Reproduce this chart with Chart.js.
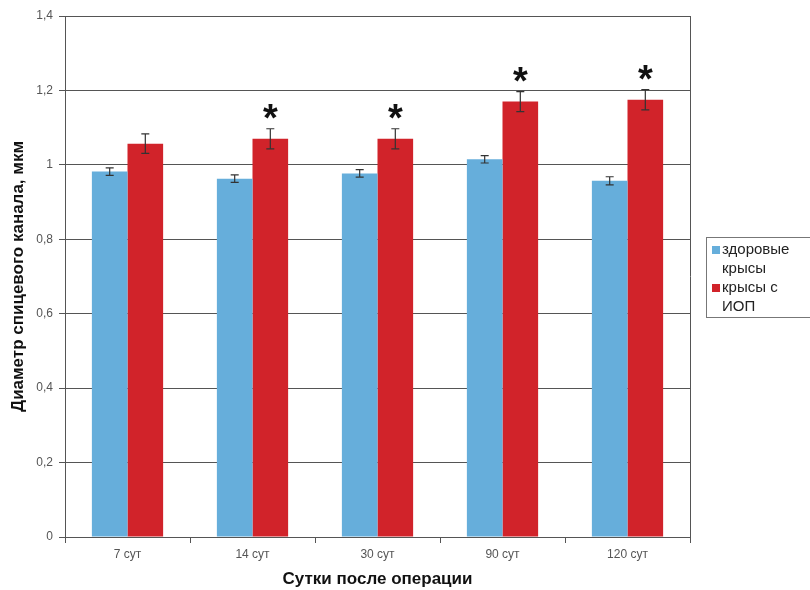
<!DOCTYPE html>
<html>
<head>
<meta charset="utf-8">
<script src="https://cdn.jsdelivr.net/npm/chart.js@4/dist/chart.umd.min.js"></script>
<style>
  html, body { margin: 0; padding: 0; background: #fff; }
  #wrap { width: 810px; height: 590px; }
</style>
</head>
<body>
<div id="wrap"><canvas id="chart" width="810" height="590"></canvas></div>
<script>
// data
const days = ['7 сут', '14 сут', '30 сут', '90 сут', '120 сут'];
const healthy = [0.982, 0.963, 0.977, 1.015, 0.957];
const healthyErr = [0.010, 0.010, 0.010, 0.010, 0.011];
const iop = [1.057, 1.070, 1.070, 1.170, 1.175];
const iopErr = [0.026, 0.027, 0.027, 0.027, 0.027];
const iopMarks = ['', '*', '*', '*', '*'];
const yTicks = [0, 0.2, 0.4, 0.6, 0.8, 1, 1.2, 1.4];

const FONT = 'Arial, "Liberation Sans", sans-serif';
const BLUE = '#66aedb';
const RED = '#d1232a';

// whiskers + significance stars
const errorBars = {
  id: 'errorBars',
  afterDatasetsDraw(chart) {
    const ctx = chart.ctx;
    const y = chart.scales.y;
    const errs = [healthyErr, iopErr];
    ctx.save();
    ctx.strokeStyle = '#333';
    ctx.lineWidth = 1.2;
    chart.data.datasets.forEach((ds, i) => {
      chart.getDatasetMeta(i).data.forEach((bar, j) => {
        const v = ds.data[j], e = errs[i][j];
        const top = y.getPixelForValue(v + e);
        const bot = y.getPixelForValue(v - e);
        ctx.beginPath();
        ctx.moveTo(bar.x, top); ctx.lineTo(bar.x, bot);
        ctx.moveTo(bar.x - 4, top); ctx.lineTo(bar.x + 4, top);
        ctx.moveTo(bar.x - 4, bot); ctx.lineTo(bar.x + 4, bot);
        ctx.stroke();
        if (i === 1 && iopMarks[j]) {
          ctx.fillStyle = '#111';
          ctx.font = 'bold 38px ' + FONT;
          ctx.textAlign = 'center';
          ctx.textBaseline = 'top';
          ctx.fillText(iopMarks[j], bar.x, top - 27);
        }
      });
    });
    ctx.restore();
  }
};

// right frame line + boxed legend with wrapped labels
const frameAndLegend = {
  id: 'frameAndLegend',
  afterDraw(chart) {
    const ctx = chart.ctx;
    const a = chart.chartArea;
    ctx.save();
    ctx.strokeStyle = '#555';
    ctx.lineWidth = 1;
    ctx.beginPath();
    ctx.moveTo(Math.round(a.right) + 0.5, a.top);
    ctx.lineTo(Math.round(a.right) + 0.5, a.bottom);
    ctx.stroke();

    const bx = 706, by = 237;
    ctx.strokeStyle = '#777';
    ctx.strokeRect(bx + 0.5, by + 0.5, 120, 80);
    const lines = [['здоровые', 'крысы'], ['крысы с', 'ИОП']];
    ctx.font = '15px ' + FONT;
    ctx.textBaseline = 'middle';
    ctx.textAlign = 'left';
    let ly = by + 13;
    chart.data.datasets.forEach((ds, i) => {
      ctx.fillStyle = ds.backgroundColor;
      ctx.fillRect(bx + 6, ly - 4, 8, 8);
      ctx.fillStyle = '#222';
      lines[i].forEach(t => {
        ctx.fillText(t, bx + 16, ly);
        ly += 19;
      });
    });
    ctx.restore();
  }
};

new Chart(document.getElementById('chart'), {
  type: 'bar',
  data: {
    labels: days,
    datasets: [
      { label: 'здоровые крысы', data: healthy, backgroundColor: BLUE },
      { label: 'крысы с ИОП', data: iop, backgroundColor: RED }
    ]
  },
  options: {
    responsive: false,
    animation: false,
    layout: { padding: { top: 16, right: 120, left: 4, bottom: 0 } },
    datasets: { bar: { categoryPercentage: 0.57, barPercentage: 1.0 } },
    plugins: { legend: { display: false }, tooltip: { enabled: false } },
    scales: {
      x: {
        grid: { offset: true, drawOnChartArea: false, drawTicks: true, tickLength: 6, color: '#555' },
        border: { color: '#555' },
        ticks: { color: '#555', font: { family: FONT, size: 12 }, padding: 4 },
        title: { display: true, text: 'Сутки после операции', color: '#111',
                 font: { family: FONT, size: 17, weight: 'bold' }, padding: { top: 8, bottom: 0 } },
        afterFit(s) { s.height = 53; }
      },
      y: {
        min: 0, max: 1.4,
        afterBuildTicks(s) { s.ticks = yTicks.map(v => ({ value: v })); },
        grid: { color: '#555', tickLength: 6 },
        border: { color: '#555' },
        ticks: {
          color: '#555', font: { family: FONT, size: 12 }, padding: 6,
          callback: v => String(Math.round(v * 10) / 10).replace('.', ',')
        },
        title: { display: true, text: 'Диаметр спицевого канала, мкм', color: '#111',
                 font: { family: FONT, size: 17, weight: 'bold' }, padding: { bottom: 2 } },
        afterFit(s) { s.width = 61; }
      }
    }
  },
  plugins: [errorBars, frameAndLegend]
});
</script>
</body>
</html>
